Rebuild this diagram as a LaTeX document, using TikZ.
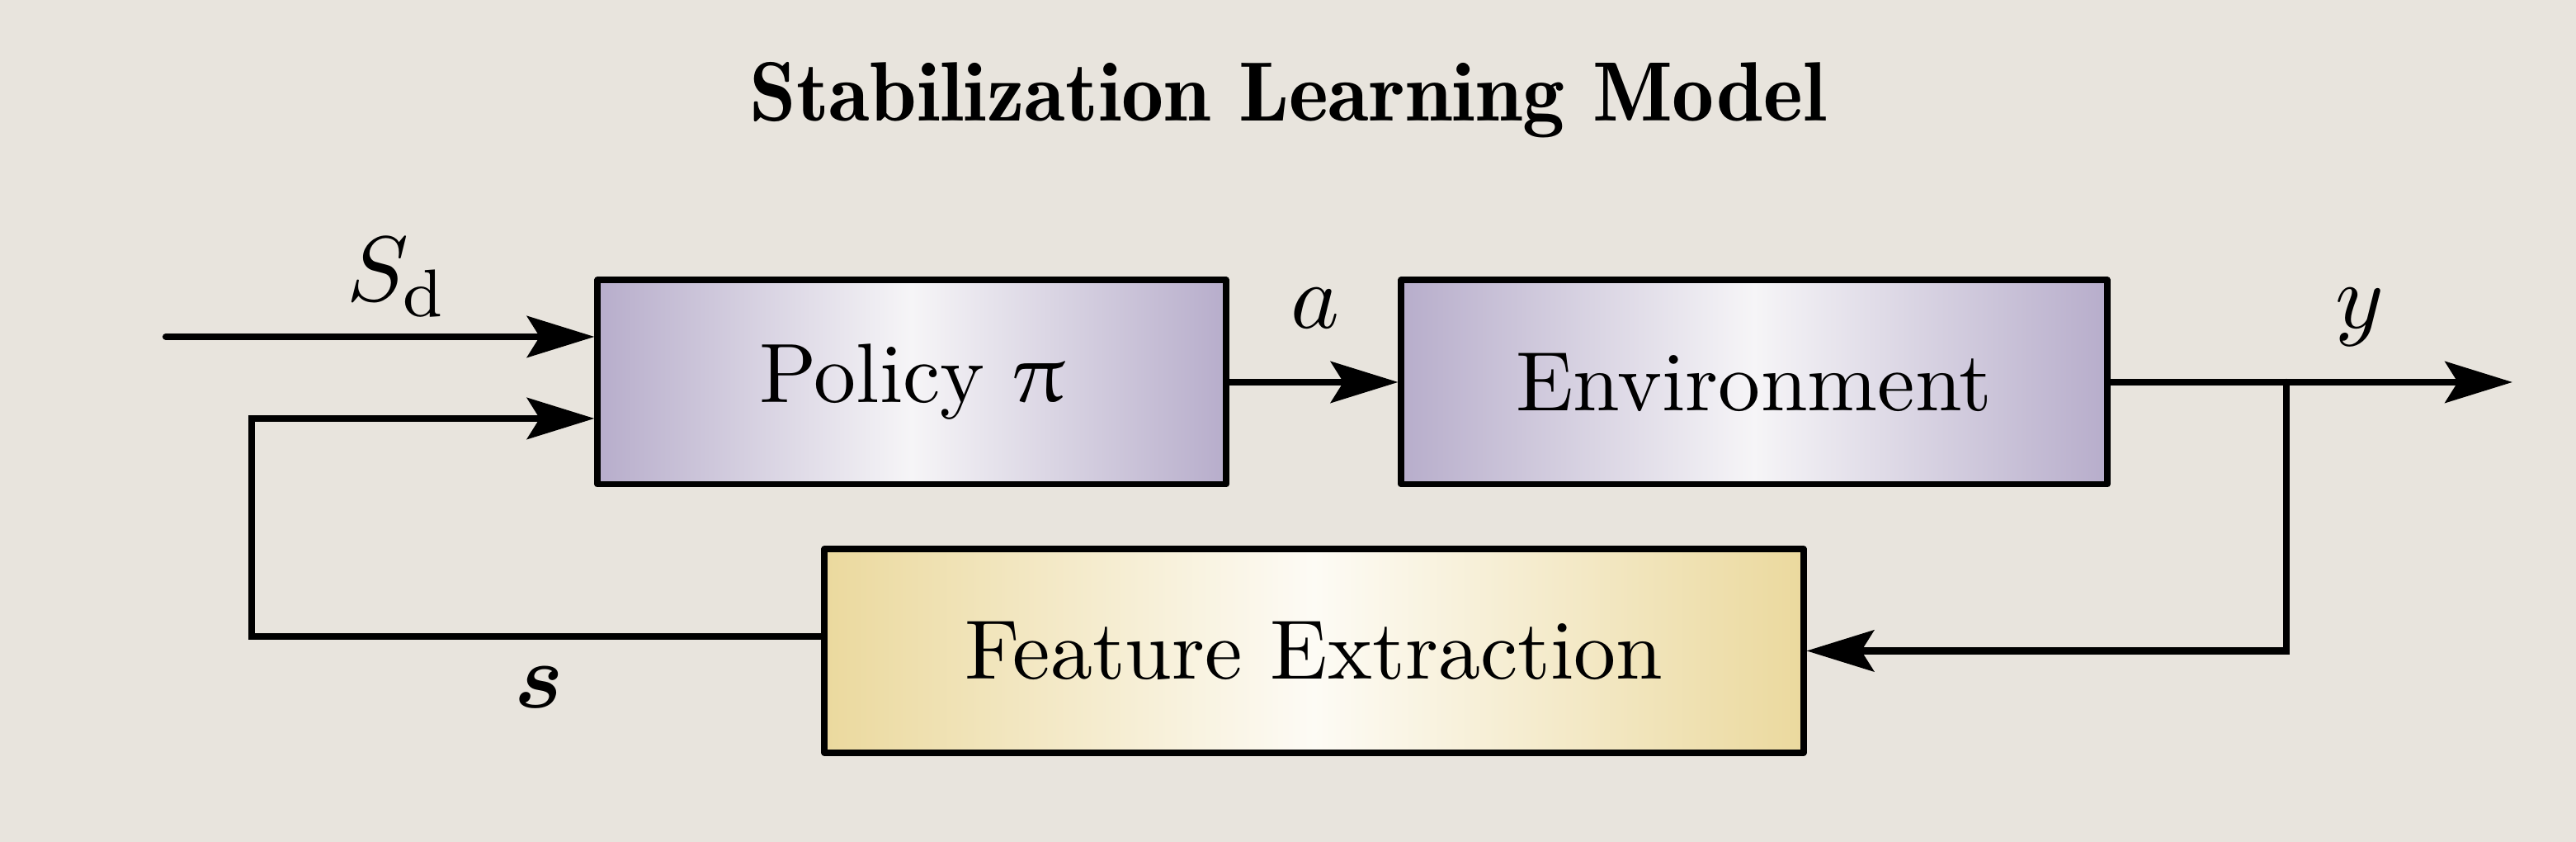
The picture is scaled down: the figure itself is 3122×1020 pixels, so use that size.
\documentclass[tikz,border=0pt]{standalone}
\usepackage{bm}
\usepackage{upgreek}
\usetikzlibrary{arrows.meta,calc}
\definecolor{bgc}{RGB}{232,228,221}
\definecolor{purpedge}{RGB}{183,173,203}
\definecolor{purpmid}{RGB}{246,245,247}
\definecolor{yeledge}{RGB}{235,217,158}
\definecolor{yelmid}{RGB}{253,251,245}
\begin{document}
\begin{tikzpicture}[x=0.098pt,y=-0.098pt,
  block/.style={draw=black, line width=0.7pt, line join=round, inner sep=0pt,
    font=\fontsize{10}{12}\selectfont},
  purpbox/.style={block, left color=purpedge, right color=purpedge, middle color=purpmid},
  yelbox/.style={block, left color=yeledge, right color=yeledge, middle color=yelmid},
  conn/.style={line width=0.8pt, line cap=round},
  arr/.style={conn, -{Stealth[length=8pt, width=4.9pt, inset=1.5pt]}},
  lbl/.style={inner sep=0pt, anchor=base, font=\fontsize{10.95}{13}\selectfont},
  ttl/.style={inner sep=0pt, anchor=base, font=\fontsize{10}{12}\fontseries{b}\selectfont}]
\fill[bgc] (0,0) rectangle (3122,1020);
\useasboundingbox (0,0) rectangle (3122,1020);

\node[ttl] (title) at (1561,147) {Stabilization Learning Model};

\node[purpbox, minimum width=74.68pt, minimum height=24.30pt] (pol) at (1105,463) {Policy $\uppi$};
\node[purpbox, minimum width=83.89pt, minimum height=24.30pt] (env) at (2126,463) {Environment};
\node[yelbox, minimum width=116.33pt, minimum height=24.21pt] (fe) at (1592.5,788.5) {Feature Extraction};

\coordinate (sdin) at (201,408);
\coordinate (fb1) at (305,771);
\coordinate (fb2) at (305,507);
\coordinate (br) at (2771,463);
\coordinate (br2) at (2771,788.5);
\coordinate (yout) at (3045,463);

\draw[arr] (sdin) -- (sdin -| pol.west);
\draw[arr] (fb1 -| fe.west) -- (fb1) -- (fb2) -- (fb2 -| pol.west);
\draw[arr] (pol.east) -- (env.west);
\draw[arr] (env.east) -- (yout);
\draw[arr] (br) -- (br2) -- (fe.east);

\node[lbl] (lsd) at (481,365) {$S_\mathrm{d}$};
\node[lbl] (la) at (1594,398) {$a$};
\node[lbl] (ly) at (2860,398) {$y$};
\node[lbl] (ls) at (653,858) {$\bm{s}$};
\end{tikzpicture}
\end{document}
